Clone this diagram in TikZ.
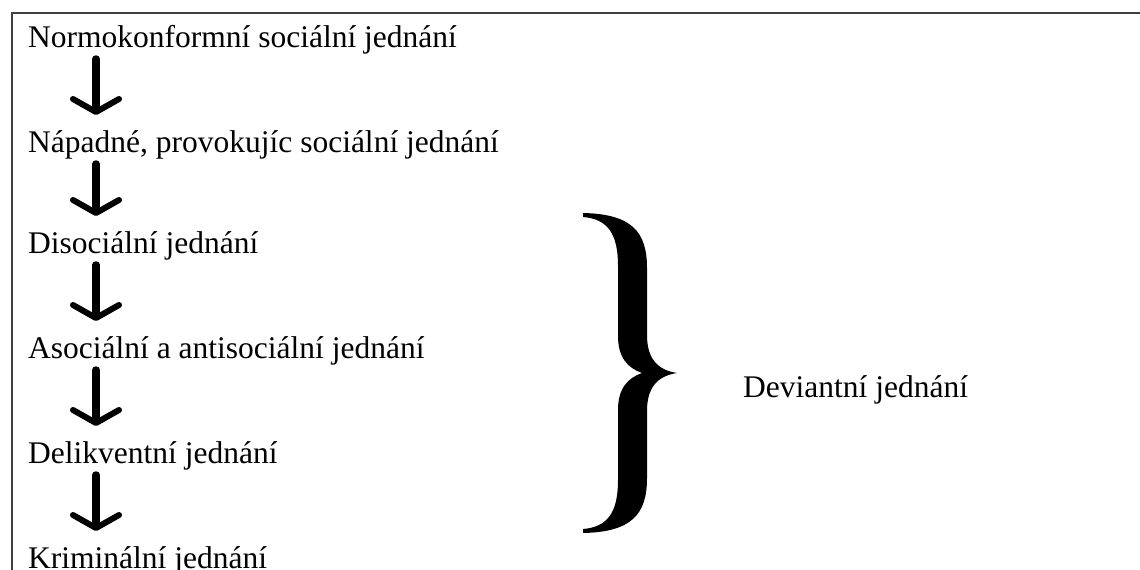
\documentclass[tikz,border=0pt]{standalone}
\usepackage{fontspec}
\setmainfont{Liberation Serif}
\usetikzlibrary{arrows.meta}

\begin{document}
\begin{tikzpicture}[x=1pt,y=-1pt,
  stage/.style={anchor=base west,inner sep=0pt,font=\fontsize{31.5}{36}\selectfont},
  flow/.style={line width=7.5pt,line cap=round,-{Straight Barb[length=13pt,width=46pt,line width=6pt,round]}}]
  \useasboundingbox (0,0) rectangle (1140,570);
  % frame (cut at right and bottom)
  \draw[line width=1.5pt,black!75] (1140,13) -- (12,13) -- (12,570);
  % stages
  \node[stage] (s1) at (28,47) {Normokonformní sociální jednání};
  \node[stage] (s2) at (28,152) {Nápadné, provokujíc sociální jednání};
  \node[stage] (s3) at (28,253) {Disociální jednání};
  \node[stage] (s4) at (28,358) {Asociální a antisociální jednání};
  \node[stage] (s5) at (28,463) {Delikventní jednání};
  \node[stage] (s6) at (28,568) {Kriminální jednání};
  \foreach \a/\b in {s1/s2,s2/s3,s3/s4,s4/s5,s5/s6}
    \draw[flow] ([shift={(68,12)}]\a.base west) -- ([shift={(68,-37)}]\b.base west);
  % brace
  \fill (583,213) .. controls (632,214) and (647,232) .. (647,268)
    -- (647,335) .. controls (647,358) and (657,370) .. (677,373)
    .. controls (657,376) and (647,388) .. (647,411)
    -- (647,478) .. controls (647,514) and (632,532) .. (583,533)
    -- (583,529) .. controls (608,527) and (618,512) .. (618,480)
    -- (618,410) .. controls (618,388) and (628,378) .. (642,373)
    .. controls (628,368) and (618,358) .. (618,336)
    -- (618,266) .. controls (618,234) and (608,219) .. (583,217) -- cycle;
  \node[stage] (dev) at (743,397) {Deviantní jednání};
\end{tikzpicture}
\end{document}
